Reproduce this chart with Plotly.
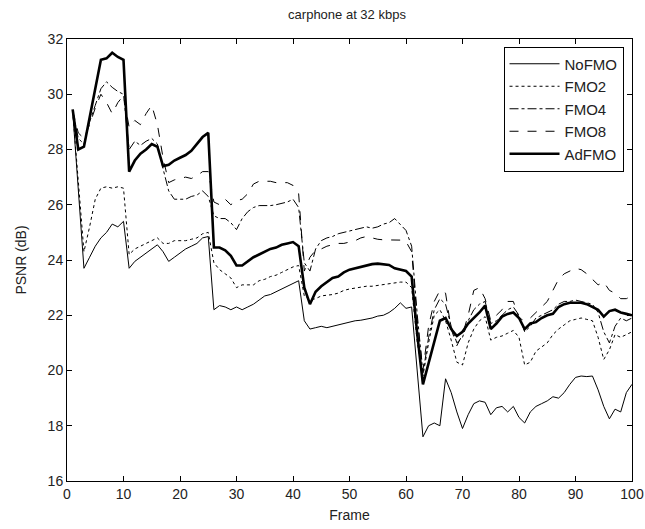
import plotly.graph_objects as go

frames = list(range(1, 101))

nofmo = [29.4, 26.5, 23.7, 24.1, 24.5, 24.8, 25.0, 25.3, 25.2, 25.4,
         23.7, 23.95, 24.1, 24.25, 24.4, 24.55, 24.3, 23.95, 24.1, 24.25,
         24.4, 24.5, 24.6, 24.8, 24.85, 22.2, 22.35, 22.3, 22.2, 22.3,
         22.2, 22.3, 22.4, 22.55, 22.7, 22.75, 22.85, 22.95, 23.05, 23.15,
         23.25, 21.8, 21.5, 21.55, 21.6, 21.55, 21.6, 21.65, 21.7, 21.75,
         21.8, 21.82, 21.85, 21.9, 21.97, 22.0, 22.1, 22.25, 22.45, 22.25,
         22.3, 19.8, 17.6, 18.0, 18.1, 18.0, 19.7, 19.2, 18.5, 17.9,
         18.4, 18.8, 18.9, 18.85, 18.4, 18.65, 18.7, 18.5, 18.7, 18.3,
         18.1, 18.5, 18.7, 18.8, 18.9, 19.05, 19.0, 19.2, 19.5, 19.75,
         19.8, 19.78, 19.8, 19.3, 18.7, 18.25, 18.6, 18.5, 19.2, 19.5]

fmo2 = [29.4, 26.9, 24.3, 25.2, 26.2, 26.6, 26.65, 26.6, 26.65, 26.6,
        24.2, 24.4, 24.5, 24.6, 24.7, 24.8, 24.6, 24.6, 24.7, 24.7,
        24.7, 24.75, 24.8, 24.95, 25.0, 23.9, 23.65, 23.5, 23.35, 23.0,
        23.1, 23.1, 23.1, 23.25, 23.3, 23.4, 23.45, 23.55, 23.65, 23.75,
        23.8, 22.7, 22.55, 22.6, 22.7, 22.72, 22.75, 22.8, 22.9, 22.95,
        22.98, 23.0, 23.05, 23.05, 23.08, 23.1, 23.12, 23.17, 23.2, 23.2,
        23.0, 21.0, 19.8, 21.0, 22.0, 22.2, 21.8, 21.1, 20.3, 20.2,
        21.0, 21.5, 21.8, 21.95, 21.1, 21.2, 21.25, 21.35, 21.45, 21.2,
        20.2, 20.3, 20.7, 20.85, 21.0, 21.3, 21.5, 21.65, 21.8, 21.85,
        21.9, 21.85, 21.8, 21.2, 20.4, 20.75, 21.3, 21.2, 21.3, 21.4]

fmo4 = [29.4, 28.4, 28.2, 29.0, 29.6, 30.2, 30.45, 30.25, 30.1, 30.0,
        28.0, 28.3, 28.15, 28.3, 28.4, 28.2, 27.3, 26.5, 26.2, 26.2,
        26.2, 26.3, 26.35, 26.5, 26.3, 25.6, 25.5, 25.5, 25.35, 25.1,
        25.5, 25.75, 25.9, 25.97, 25.97, 25.97, 26.0, 26.05, 26.1, 26.2,
        25.9, 23.9, 23.6, 24.4, 24.7, 24.8, 24.85, 24.95, 25.0, 25.03,
        25.1, 25.15, 25.2, 25.15, 25.2, 25.3, 25.35, 25.5, 25.3, 25.07,
        24.5, 22.0, 19.9, 21.2, 22.2, 22.6, 22.4, 21.6, 21.0, 21.2,
        21.8, 22.2, 22.4, 22.5, 21.7, 21.8, 22.0, 22.2, 22.3, 22.0,
        21.4, 21.6, 21.9, 22.0, 22.1, 22.2, 22.4, 22.5, 22.5, 22.55,
        22.5, 22.45, 22.4, 22.1, 21.4, 21.0, 21.6, 21.9, 21.8, 21.9]

fmo8 = [29.4, 28.6, 28.4, 28.9, 29.5, 30.0, 29.7, 29.3, 29.7, 29.95,
        28.8, 29.05, 28.9, 29.3, 29.6, 28.9, 27.7, 26.8, 26.9, 26.95,
        27.0, 26.95, 27.05, 27.2, 27.2, 26.1, 26.0, 26.2, 26.0, 26.15,
        26.2, 26.4, 26.75, 26.85, 26.85, 26.85, 26.8, 26.8, 26.8, 26.7,
        26.4, 23.6, 24.1, 24.35, 24.4, 24.5, 24.55, 24.6, 24.6, 24.65,
        24.7, 24.8, 24.85, 24.8, 24.75, 24.73, 24.73, 24.73, 24.72, 24.67,
        24.3, 21.8, 20.0, 21.6, 22.5, 22.9, 22.8, 21.5, 20.9, 21.3,
        22.0, 22.9, 23.0, 22.6, 21.8, 22.0, 22.2, 22.5, 22.5, 21.9,
        21.8, 21.9, 22.1, 22.3, 22.5, 22.9, 23.3, 23.5, 23.6, 23.7,
        23.65, 23.5, 23.3, 23.1, 23.2, 22.9, 22.8, 22.6, 22.6, 22.7]

adfmo = [29.45, 28.0, 28.1, 29.1, 30.2, 31.25, 31.3, 31.5, 31.35, 31.25,
         27.2, 27.6, 27.85, 28.0, 28.2, 28.1, 27.4, 27.45, 27.6, 27.7,
         27.8, 27.95, 28.2, 28.45, 28.6, 24.45, 24.45, 24.35, 24.15, 23.8,
         23.8, 23.95, 24.1, 24.2, 24.3, 24.4, 24.45, 24.55, 24.6, 24.65,
         24.5, 23.0, 22.4, 22.85, 23.05, 23.2, 23.35, 23.4, 23.55, 23.65,
         23.7, 23.75, 23.8, 23.85, 23.87, 23.85, 23.82, 23.7, 23.65, 23.6,
         23.4, 21.3, 19.5, 20.3, 21.1, 21.8, 21.9, 21.5, 21.25, 21.4,
         21.7, 21.9, 22.1, 22.35, 21.5, 21.7, 21.95, 22.05, 22.1, 21.9,
         21.5, 21.7, 21.75, 21.9, 22.0, 22.05, 22.3, 22.4, 22.45, 22.45,
         22.45, 22.4, 22.3, 22.2, 21.95, 22.15, 22.2, 22.1, 22.05, 22.0]

series_names = ["NoFMO", "FMO2", "FMO4", "FMO8", "AdFMO"]
series_vals = [nofmo, fmo2, fmo4, fmo8, adfmo]
dashes = ["solid", "dot", "dashdot", "dash", "solid"]
widths = [1, 1, 1, 1, 2.6]

FONT = "Liberation Sans Narrow, Liberation Sans, Arial, sans-serif"

fig = go.Figure()
for name, vals, d, w in zip(series_names, series_vals, dashes, widths):
    fig.add_trace(go.Scatter(x=frames, y=vals, mode="lines", name=name,
                             line=dict(color="black", width=w, dash=d)))

axis_common = dict(showline=True, linecolor="black", linewidth=1, mirror="ticks",
                   ticks="inside", ticklen=5, tickcolor="black", showgrid=False,
                   zeroline=False, tickfont=dict(family=FONT, size=14, color="#222"))

fig.update_xaxes(range=[0, 100], tick0=0, dtick=10,
                 title=dict(text="Frame", font=dict(family=FONT, size=14, color="#222"), standoff=9),
                 **axis_common)
fig.update_yaxes(range=[16, 32], tick0=16, dtick=2,
                 title=dict(text="PSNR (dB)", font=dict(family=FONT, size=14, color="#222"), standoff=17),
                 **axis_common)

fig.update_layout(
    width=645, height=529,
    margin=dict(l=67, r=13, t=39, b=48, autoexpand=False),
    paper_bgcolor="white", plot_bgcolor="white",
    title=dict(text="carphone at 32 kbps", x=0.538, xanchor="center",
               y=1 - 14 / 529, yanchor="middle", yref="container",
               font=dict(family=FONT, size=13, color="#222")),
    legend=dict(x=0.985, y=0.983, xanchor="right", yanchor="top",
                bordercolor="black", borderwidth=1, bgcolor="white",
                font=dict(family=FONT, size=15, color="#222"),
                itemwidth=50, tracegroupgap=0),
    showlegend=True,
)

fig.write_html("out.html")
